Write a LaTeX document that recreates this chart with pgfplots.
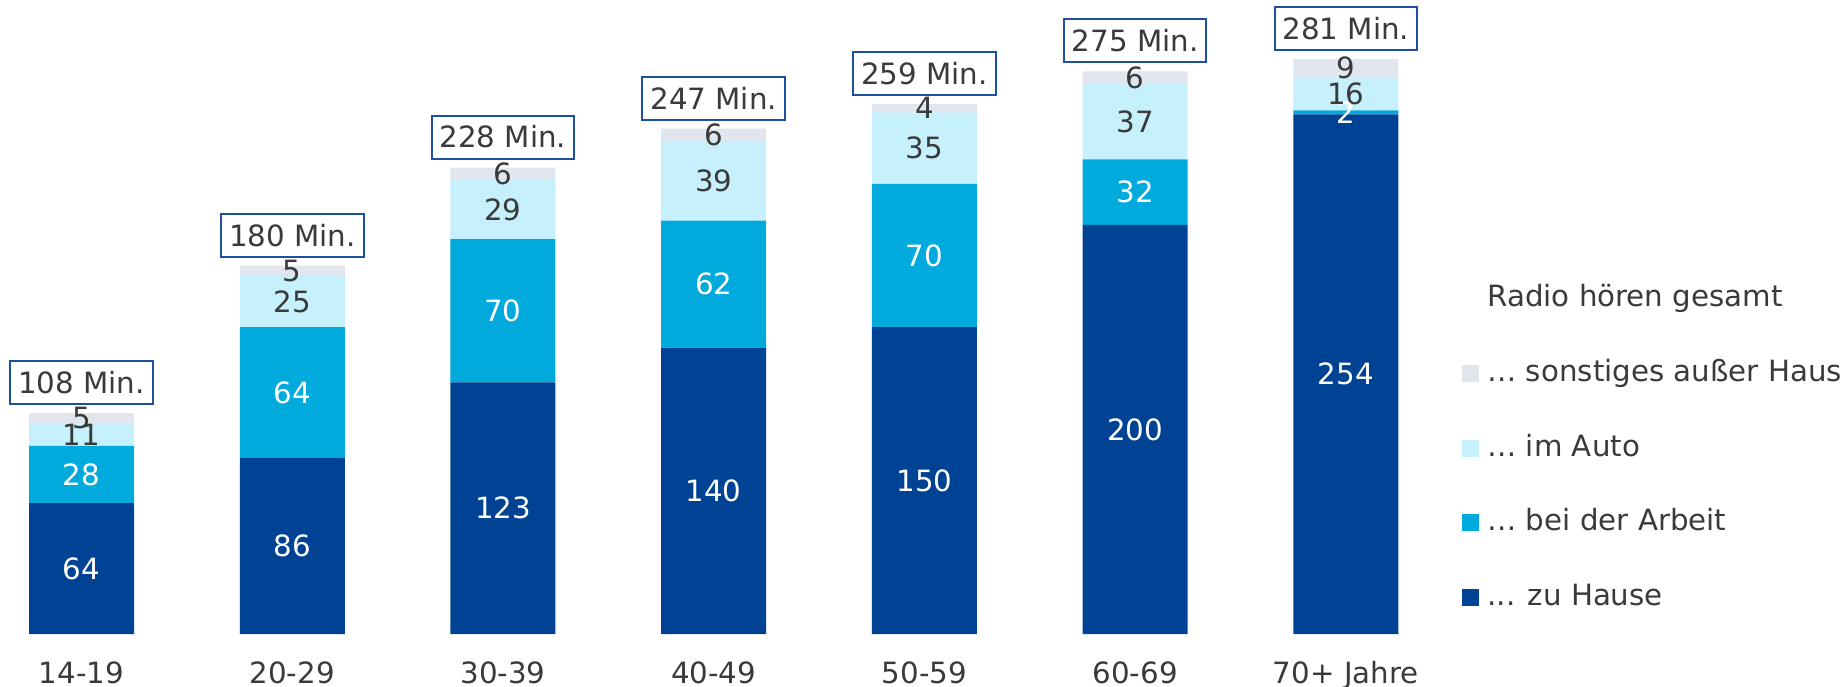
\documentclass[border=0pt]{standalone}
\usepackage{pgfplots}
\pgfplotsset{compat=1.18}
\usepackage{fontspec}
\setmainfont{DejaVu Sans}
\definecolor{cHome}{RGB}{0,67,148}
\definecolor{cWork}{RGB}{0,170,221}
\definecolor{cAuto}{RGB}{197,240,252}
\definecolor{cOther}{RGB}{225,229,238}
\definecolor{cText}{RGB}{58,58,58}
\definecolor{cBox}{RGB}{30,80,160}
\newcommand{\fs}{\fontsize{14.7}{17.6}\selectfont}
\pgfplotsset{
  base/.style={
    scale only axis, width=720bp, height=317bp,
    xmin=-0.387, xmax=6.447, ymin=0, ymax=309.9,
    axis line style={draw=none}, major tick length=0pt,
    ytick=\empty, xtick={0,...,6}, clip=false,
  },
  lbl/.style={only marks, mark=*, mark size=0pt, mark options={draw=none,fill=none},
    nodes near coords, point meta=explicit symbolic,
    nodes near coords style={font=\fs, anchor=center, inner sep=0pt, text=#1}},
}
\begin{document}
\begin{tikzpicture}
\begin{axis}[base,
  ybar stacked, bar width=52.5bp,
  xticklabels={14-19,20-29,30-39,40-49,50-59,60-69,70+ Jahre},
  xticklabel style={font=\fs, text=cText, anchor=base, yshift=-24.5bp},
  reverse legend,
  legend cell align=left,
  legend style={at={(axis description cs:1,0)}, anchor=south west, xshift=11bp, yshift=10.9bp,
    draw=none, fill=none, inner sep=0pt, row sep=23.45bp, column sep=0pt, font=\fs, text=cText,
    nodes={inner xsep=4bp, inner ysep=0pt, text height=11bp, text depth=3bp}},
]
\addplot[fill=cHome, draw=none, legend image code/.code={\fill[cHome] (0bp,-4.25bp) rectangle (8.5bp,4.25bp);}]
  coordinates {(0,64) (1,86) (2,123) (3,140) (4,150) (5,200) (6,254)};
\addlegendentry{... zu Hause}
\addplot[fill=cWork, draw=none, legend image code/.code={\fill[cWork] (0bp,-4.25bp) rectangle (8.5bp,4.25bp);}]
  coordinates {(0,28) (1,64) (2,70) (3,62) (4,70) (5,32) (6,2)};
\addlegendentry{… bei der Arbeit}
\addplot[fill=cAuto, draw=none, legend image code/.code={\fill[cAuto] (0bp,-4.25bp) rectangle (8.5bp,4.25bp);}]
  coordinates {(0,11) (1,25) (2,29) (3,39) (4,35) (5,37) (6,16)};
\addlegendentry{… im Auto}
\addplot[fill=cOther, draw=none, legend image code/.code={\fill[cOther] (0bp,-4.25bp) rectangle (8.5bp,4.25bp);}]
  coordinates {(0,5) (1,5) (2,6) (3,6) (4,4) (5,6) (6,9)};
\addlegendentry{… sonstiges außer Haus}
\addlegendimage{empty legend}
\addlegendentry{Radio hören gesamt}
\end{axis}
\begin{axis}[base, xtick=\empty]
\addplot[lbl=white] table[meta=l] {
x y l
0 32 64
1 43 86
2 61.5 123
3 70 140
4 75 150
5 100 200
6 127 254
};
\addplot[lbl=white] table[meta=l] {
x y l
0 78 28
1 118 64
2 158 70
3 171 62
4 185 70
5 216 32
6 255 2
};
\addplot[lbl=cText] table[meta=l] {
x y l
0 97.5 11
1 162.5 25
2 207.5 29
3 221.5 39
4 237.5 35
5 250.5 37
6 264 16
};
\addplot[lbl=cText] table[meta=l] {
x y l
0 105.5 5
1 177.5 5
2 225 6
3 244 6
4 257 4
5 272 6
6 276.5 9
};
\addplot[only marks, mark=*, mark size=0pt, mark options={draw=none,fill=none},
  nodes near coords, point meta=explicit symbolic,
  nodes near coords style={font=\fs, text=cText, anchor=south, yshift=4bp, draw=cBox, line width=1bp,
    fill=white, inner xsep=4bp, inner ysep=0pt, minimum height=21.5bp}]
  table[meta=l, col sep=comma] {
x,y,l
0,108,108 Min.
1,180,180 Min.
2,228,228 Min.
3,247,247 Min.
4,259,259 Min.
5,275,275 Min.
6,281,281 Min.
};
\end{axis}
\pgfresetboundingbox
\path[use as bounding box] ([yshift=-26.5bp]current axis.south west) rectangle ++(920.5bp,343.5bp);
\end{tikzpicture}
\end{document}
